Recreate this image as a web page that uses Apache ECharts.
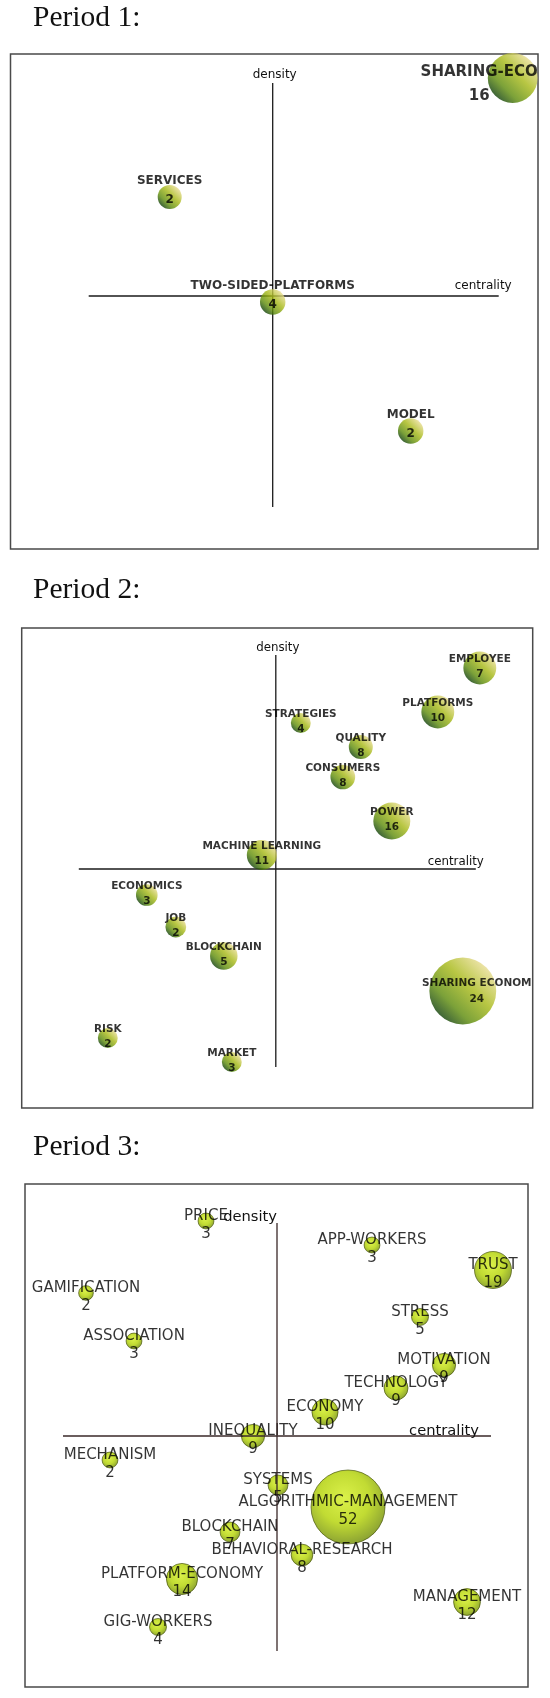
<!DOCTYPE html>
<html>
<head>
<meta charset="utf-8">
<script src="https://cdn.jsdelivr.net/npm/echarts@6/dist/echarts.min.js"></script>
<style>
  html, body { margin: 0; padding: 0; background: #fff; }
  #chart { width: 550px; height: 1698px; }
</style>
</head>
<body>
<div id="chart"></div>
<script>
// period 1
const p1Names = ['SHARING-ECO', 'SERVICES', 'TWO-SIDED-PLATFORMS', 'MODEL'];
const p1Centrality = [24.0, -10.3, 0.0, 13.8];
const p1Density = [21.8, 9.9, -0.6, -13.5];
const p1Counts = [16, 2, 4, 2];
const p1Freq = [69, 16, 18, 18];

// period 2
const p2Names = ['EMPLOYEE', 'PLATFORMS', 'STRATEGIES', 'QUALITY', 'CONSUMERS', 'POWER',
    'MACHINE LEARNING', 'ECONOMICS', 'JOB', 'BLOCKCHAIN', 'SHARING ECONOM', 'RISK', 'MARKET'];
const p2Centrality = [20.4, 16.2, 2.5, 8.5, 6.7, 11.6, -1.4, -12.9, -10.0, -5.2, 18.7, -16.8, -4.4];
const p2Density = [20.1, 15.7, 14.6, 12.2, 9.2, 4.8, 1.4, -2.6, -5.8, -8.7, -12.2, -16.9, -19.3];
const p2Counts = [7, 10, 4, 8, 8, 16, 11, 3, 2, 5, 24, 2, 3];
const p2Freq = [30, 30, 11, 16, 17, 38, 25, 13, 12, 21, 124, 11, 11];

// period 3
const p3Names = ['PRICE', 'APP-WORKERS', 'TRUST', 'GAMIFICATION', 'STRESS', 'ASSOCIATION',
    'MOTIVATION', 'TECHNOLOGY', 'ECONOMY', 'INEQUALITY', 'MECHANISM', 'SYSTEMS',
    'ALGORITHMIC-MANAGEMENT', 'BLOCKCHAIN', 'BEHAVIORAL-RESEARCH', 'PLATFORM-ECONOMY',
    'MANAGEMENT', 'GIG-WORKERS'];
const p3Centrality = [-7.1, 9.5, 21.6, -19.1, 14.3, -14.3, 16.7, 11.9, 4.8, -2.4, -16.7, 0.1,
    7.1, -4.7, 2.5, -9.5, 19.0, -11.9];
const p3Density = [21.5, 19.1, 16.6, 14.3, 11.9, 9.5, 7.1, 4.8, 2.4, 0.0, -2.4, -4.9,
    -7.1, -9.6, -11.9, -14.3, -16.6, -19.1];
const p3Counts = [3, 3, 19, 2, 5, 3, 9, 9, 10, 9, 2, 5, 52, 7, 8, 14, 12, 4];
const p3Freq = [7, 7, 38, 6, 8, 7, 15, 16, 19, 15, 7, 11, 152, 11, 13, 27, 20, 8];

const panels = [
    {
        title: 'Period 1:', titleY: 18.5,
        box: {left: 10.5, top: 54, width: 527.5, height: 495},
        xRange: [-26.22, 26.53], yRange: [-25.3, 24.2],
        hLine: [-18.4, 22.6], vLine: [-21.1, 21.3],
        names: p1Names, x: p1Centrality, y: p1Density, counts: p1Counts, freq: p1Freq,
        look: 'shaded', lineColor: '#1a1a1a', linesOnTop: false,
        font: {fontFamily: 'DejaVu Sans', fontWeight: 'bold', fontSize: 12, lineHeight: 19},
        labelShift: [0, -6.5],
        nudge: {'SHARING-ECO': {shift: [-33.5, 6], fontSize: 15, lineHeight: 24}},
        axisFont: 12,
        density: {dx: 2, dy: -8, align: 'center'},
        centrality: {dx: -15.5, dy: -10}
    },
    {
        title: 'Period 2:', titleY: 590.5,
        box: {left: 21.7, top: 628, width: 511, height: 480},
        xRange: [-25.41, 25.69], yRange: [-23.9, 24.1],
        hLine: [-19.7, 20.0], vLine: [-19.8, 21.4],
        names: p2Names, x: p2Centrality, y: p2Density, counts: p2Counts, freq: p2Freq,
        look: 'shaded', lineColor: '#1a1a1a', linesOnTop: false,
        font: {fontFamily: 'DejaVu Sans', fontWeight: 'bold', fontSize: 10.5, lineHeight: 15},
        labelShift: [0, -1],
        nudge: {'SHARING ECONOM': {shift: [14, 0], lineHeight: 16}},
        axisFont: 11.8,
        density: {dx: 2, dy: -7, align: 'center'},
        centrality: {dx: -20, dy: -7}
    },
    {
        title: 'Period 3:', titleY: 1147,
        box: {left: 25, top: 1184, width: 503, height: 503},
        xRange: [-25.2, 25.1], yRange: [-25.1, 25.2],
        hLine: [-21.4, 21.4], vLine: [-21.5, 21.3],
        names: p3Names, x: p3Centrality, y: p3Density, counts: p3Counts, freq: p3Freq,
        look: 'lime', lineColor: '#3a2828', linesOnTop: true,
        font: {fontFamily: 'DejaVu Sans', fontWeight: 'normal', fontSize: 15, lineHeight: 18.5},
        labelShift: [0, 4],
        nudge: {},
        axisFont: 14.7,
        density: {dx: 0, dy: -6, align: 'right'},
        centrality: {dx: -47, dy: -5}
    }
];

function bubbleColor(look) {
    if (look === 'lime') {
        return new echarts.graphic.RadialGradient(0.45, 0.38, 0.62, [
            {offset: 0, color: '#d2ee1c'},
            {offset: 0.55, color: '#b2d200'},
            {offset: 1, color: '#6f8c00'}
        ]);
    }
    return new echarts.graphic.LinearGradient(1, 0, 0, 1, [
        {offset: 0.15, color: '#e6db8e'},
        {offset: 0.42, color: '#a6b814'},
        {offset: 0.68, color: '#5b8a08'},
        {offset: 0.86, color: '#0c3c06'}
    ]);
}

const chart = echarts.init(document.getElementById('chart'));

const grids = [], xAxes = [], yAxes = [], series = [];

panels.forEach((p, i) => {
    grids.push({
        left: p.box.left, top: p.box.top, width: p.box.width, height: p.box.height,
        show: true, borderColor: '#4a4a4a', borderWidth: 1.5, backgroundColor: '#fff'
    });
    xAxes.push({
        type: 'value', gridIndex: i, min: p.xRange[0], max: p.xRange[1], show: false
    });
    yAxes.push({
        type: 'value', gridIndex: i, min: p.yRange[0], max: p.yRange[1], show: false
    });

    const lineZ = p.linesOnTop ? 4 : 1;
    [[[p.hLine[0], 0], [p.hLine[1], 0]], [[0, p.vLine[0]], [0, p.vLine[1]]]].forEach((seg) => {
        series.push({
            type: 'line', xAxisIndex: i, yAxisIndex: i, data: seg,
            symbol: 'none', silent: true, z: lineZ,
            lineStyle: {color: p.lineColor, width: 1.3}
        });
    });

    const data = p.names.map((name, k) => {
        const item = {value: [p.x[k], p.y[k], p.freq[k], p.counts[k], name]};
        const n = p.nudge[name];
        if (n) {
            item.label = {};
            if (n.fontSize) item.label.fontSize = n.fontSize;
            if (n.lineHeight) item.label.lineHeight = n.lineHeight;
        }
        return item;
    });

    series.push({
        type: 'scatter', xAxisIndex: i, yAxisIndex: i, data: data, z: 2,
        silent: true, clip: false,
        symbolSize: (val) => 6 * Math.sqrt(val[2]),
        itemStyle: p.look === 'lime'
            ? {color: bubbleColor('lime'), borderColor: '#3c4800', borderWidth: 0.8}
            : {color: bubbleColor('shaded')},
        label: Object.assign({
            show: true, position: 'inside', color: '#000', align: 'center',
            textBorderWidth: 0,
            formatter: (d) => d.value[4] + '\n' + d.value[3]
        }, p.font),
        labelLayout: (params) => {
            const n = p.nudge[p.names[params.dataIndex]];
            const s = (n && n.shift) || p.labelShift;
            return {dx: s[0], dy: s[1], hideOverlap: false};
        }
    });
});

chart.setOption({
    animation: false,
    backgroundColor: '#fff',
    grid: grids,
    xAxis: xAxes,
    yAxis: yAxes,
    series: series
});

// titles and axis names, placed from the axis-line ends
const graphics = [];
panels.forEach((p, i) => {
    graphics.push({
        type: 'text', silent: true,
        style: {
            text: p.title, x: 33, y: p.titleY, font: '29.5px "Liberation Serif"',
            fill: '#111', align: 'left', verticalAlign: 'middle'
        }
    });
    const top = chart.convertToPixel({gridIndex: i}, [0, p.vLine[1]]);
    const right = chart.convertToPixel({gridIndex: i}, [p.hLine[1], 0]);
    const fontSpec = p.axisFont + 'px "DejaVu Sans"';
    graphics.push({
        type: 'text', silent: true, z: 10,
        style: {
            text: 'density', x: top[0] + p.density.dx, y: top[1] + p.density.dy,
            font: fontSpec, fill: '#111', align: p.density.align, verticalAlign: 'middle'
        }
    });
    graphics.push({
        type: 'text', silent: true, z: 10,
        style: {
            text: 'centrality', x: right[0] + p.centrality.dx, y: right[1] + p.centrality.dy,
            font: fontSpec, fill: '#111', align: 'center', verticalAlign: 'middle'
        }
    });
});

chart.setOption({graphic: graphics});
</script>
</body>
</html>
